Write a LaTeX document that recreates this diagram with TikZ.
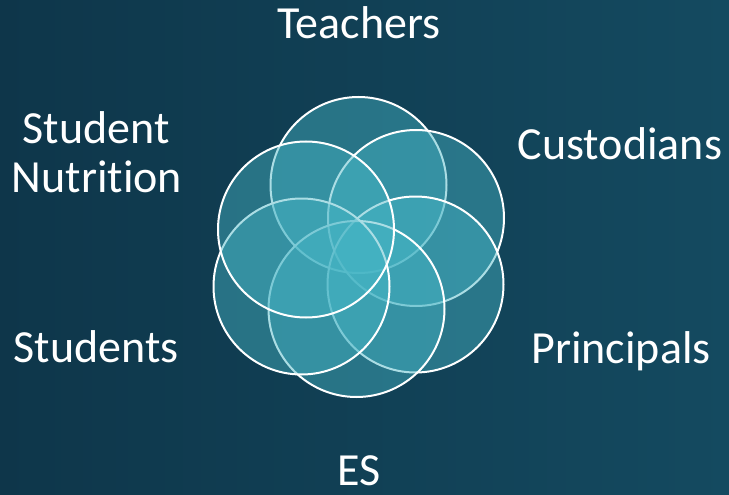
\documentclass[tikz,border=0pt]{standalone}
\usepackage{fontspec}
\setmainfont{Carlito}[Ligatures=NoCommon]
\definecolor{bgleft}{HTML}{0E364A}
\definecolor{bgright}{HTML}{144A60}
\definecolor{vennfill}{HTML}{46B5C5}
\tikzset{
  venn/.style={circle, minimum size=176pt, inner sep=0pt, fill=vennfill, fill opacity=0.45, draw=white, draw opacity=1, line width=2pt},
  lbl/.style={text=white, font=\fontsize{46}{49}\selectfont, anchor=base, inner sep=0pt}
}
\begin{document}
\begin{tikzpicture}[x=1pt,y=-1pt]
\useasboundingbox (0,0) rectangle (729,495);
\shade[left color=bgleft, right color=bgright] (0,0) rectangle (729,495);
\node[venn] (cTeach) at (358.5,185) {};
\node[venn] (cCust)  at (416,218) {};
\node[venn] (cPrin)  at (415.5,284.5) {};
\node[venn] (cES)    at (356.5,309) {};
\node[venn] (cStud)  at (301.5,286.5) {};
\node[venn] (cNutr)  at (306,229.5) {};
\node[lbl] (tTeach) at (359,39) {Teachers};
\node[lbl] (tCust) at (620,159) {Custodians};
\node[lbl] (tPrin) at (621,363) {Principals};
\node[lbl] (tES) at (359,485) {ES};
\node[lbl] (tStud) at (96,362) {Students};
\node[lbl] (tNutr1) at (96,143) {Student};
\node[lbl] (tNutr2) at (97,192) {Nutrition};
\end{tikzpicture}
\end{document}
